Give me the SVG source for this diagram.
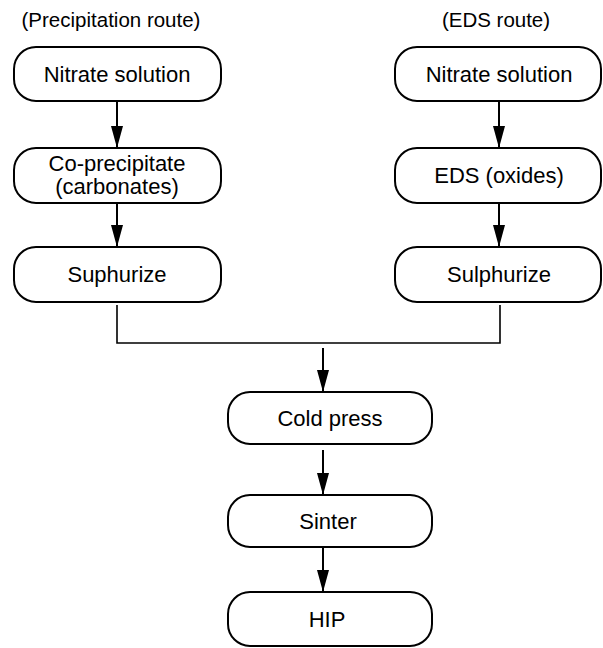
<svg xmlns="http://www.w3.org/2000/svg" width="603" height="648" viewBox="0 0 603 648">
<defs>
<style>
.box{fill:#fff;stroke:#000;stroke-width:2}
.t{font-family:"Liberation Sans",Arial,sans-serif;font-size:22px;fill:#000;text-anchor:middle}
.h{font-size:20.5px}
.c{stroke:#000;stroke-width:2;fill:none}
.m{stroke:#000;stroke-width:1.6;fill:none}
</style>
<marker id="ah" markerWidth="22" markerHeight="12" refX="22" refY="6" orient="auto" markerUnits="userSpaceOnUse" viewBox="0 0 22 12">
<path d="M0,0 L22,6 L0,12 Z" fill="#000"/>
</marker>
</defs>
<rect width="603" height="648" fill="#fff"/>
<text class="t h" x="111" y="27">(Precipitation route)</text>
<text class="t h" x="496" y="27">(EDS route)</text>
<g id="connectors">
<line class="c" x1="117" y1="102" x2="117" y2="148" marker-end="url(#ah)"/>
<line class="c" x1="117" y1="204" x2="117" y2="247" marker-end="url(#ah)"/>
<line class="c" x1="499" y1="102" x2="499" y2="148" marker-end="url(#ah)"/>
<line class="c" x1="499" y1="204" x2="499" y2="247" marker-end="url(#ah)"/>
<polyline class="m" points="117,305 117,343 500,343 500,305"/>
<line class="c" x1="323" y1="348" x2="323" y2="392" marker-end="url(#ah)"/>
<line class="c" x1="323" y1="450" x2="323" y2="495" marker-end="url(#ah)"/>
<line class="c" x1="323" y1="548" x2="323" y2="592" marker-end="url(#ah)"/>
</g>
<g id="n1"><rect class="box" x="14" y="47" width="207" height="54" rx="22"/><text class="t" x="117" y="82">Nitrate solution</text></g>
<g id="n2"><rect class="box" x="14" y="148" width="207" height="55" rx="22"/><text class="t" x="117" y="171">Co-precipitate</text><text class="t" x="117" y="194">(carbonates)</text></g>
<g id="n3"><rect class="box" x="14" y="247" width="207" height="55" rx="22"/><text class="t" x="117" y="282">Suphurize</text></g>
<g id="n4"><rect class="box" x="395" y="47" width="206" height="54" rx="22"/><text class="t" x="499" y="82">Nitrate solution</text></g>
<g id="n5"><rect class="box" x="395" y="148" width="206" height="55" rx="22"/><text class="t" x="499" y="183">EDS (oxides)</text></g>
<g id="n6"><rect class="box" x="395" y="247" width="206" height="55" rx="22"/><text class="t" x="499" y="282">Sulphurize</text></g>
<g id="n7"><rect class="box" x="228" y="392" width="204" height="52" rx="22"/><text class="t" x="330" y="426">Cold press</text></g>
<g id="n8"><rect class="box" x="228" y="495" width="204" height="52" rx="22"/><text class="t" x="328" y="529">Sinter</text></g>
<g id="n9"><rect class="box" x="228" y="592" width="204" height="54" rx="22"/><text class="t" x="327" y="627">HIP</text></g>
</svg>
